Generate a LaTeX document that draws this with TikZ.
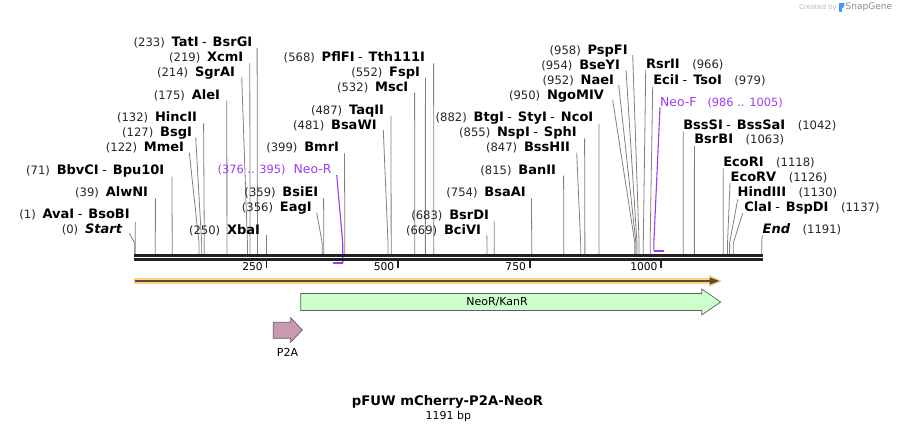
\documentclass[tikz,border=0pt]{standalone}
\usepackage{fontspec}
\setmainfont{DejaVu Sans}
\definecolor{numc}{HTML}{262626}
\definecolor{cutc}{HTML}{808080}
\definecolor{bbc}{HTML}{222222}
\definecolor{primc}{HTML}{9B3BF5}
\definecolor{orl}{HTML}{FFD27F}
\definecolor{ord}{HTML}{5C4A37}
\definecolor{neof}{HTML}{CCFFCC}
\definecolor{p2af}{HTML}{CC99B3}
\definecolor{featc}{HTML}{5F5F5F}
\newcommand\nm[1]{{\fontsize{11.6}{13}\selectfont\color{numc}#1}}
\newcommand\nb[1]{{\fontsize{13}{14}\selectfont\bfseries #1}}
\newcommand\gp{\hspace{6.8pt}}
\newcommand\dsh{\hspace{3.5pt}{\fontsize{12.7}{14}\selectfont -}\hspace{6pt}}
\newcommand\rgp{\hspace{12.5pt}}
\newcommand\bpx[1]{134.8+0.5264*#1}
\newcommand\cutL[7]{%
  \node[lbl, anchor=base east] (#1) at (#3,#4+4.6) {#2};
  \coordinate (#1s) at (#5,#6);
  \draw[cut] (#1s) -- ({\bpx{#7}},243) -- ({\bpx{#7}},254);
}
\newcommand\cutR[7]{%
  \node[lbl, anchor=base west] (#1) at (#3,#4+4.6) {#2};
  \coordinate (#1s) at (#5,#6);
  \draw[cut] (#1s) -- ({\bpx{#7}},243) -- ({\bpx{#7}},254);
}
\begin{document}
\begin{tikzpicture}[x=1pt,y=-1pt,
  lbl/.style={inner sep=0pt, outer sep=0pt},
  cut/.style={draw=cutc, line width=0.8pt},
  bb/.style={draw=bbc, line width=2.5pt},
  tickmark/.style={draw=bbc, line width=1.8pt},
  ticklbl/.style={inner sep=0pt, anchor=base east, font=\fontsize{10.7}{12}\selectfont},
  primline/.style={draw=primc, line width=1.1pt},
  primbar/.style={draw=primc, line width=2pt},
  prim/.style={inner sep=0pt, text=primc},
  feat/.style={draw=featc, line width=0.7pt, line join=miter},
  featlbl/.style={inner sep=0pt, font=\fontsize{11}{13}\selectfont}]
\useasboundingbox (0,0) rectangle (897,433);
\fill[white] (0,0) rectangle (897,433);

% restriction sites, left-side labels
\cutL{tat}{\nm{(233)}\gp\nb{TatI}\dsh\nb{BsrGI}}{252.3}{42.3}{257.1}{48}{233}
\cutL{xcm}{\nm{(219)}\gp\nb{XcmI}}{243.3}{56.7}{249.8}{63}{219}
\cutL{sgr}{\nm{(214)}\gp\nb{SgrAI}}{235}{72.3}{241.7}{77.3}{214}
\cutL{ale}{\nm{(175)}\gp\nb{AleI}}{220}{95}{226.8}{100.7}{175}
\cutL{hinc}{\nm{(132)}\gp\nb{HincII}}{197}{117.3}{203.6}{123.3}{132}
\cutL{bsg}{\nm{(127)}\gp\nb{BsgI}}{192}{132.3}{195.7}{137.3}{127}
\cutL{mme}{\nm{(122)}\gp\nb{MmeI}}{184}{146.7}{189.3}{152.7}{122}
\cutL{bbv}{\nm{(71)}\gp\nb{BbvCI}\dsh\nb{Bpu10I}}{164.3}{170}{172}{176.7}{71}
\cutL{alw}{\nm{(39)}\gp\nb{AlwNI}}{148}{192.3}{155.4}{198.3}{39}
\cutL{ava}{\nm{(1)}\gp\nb{AvaI}\dsh\nb{BsoBI}}{129.7}{214.3}{135.3}{221.7}{1}
\cutL{startl}{\nm{(0)}\gp\nb{\itshape Start}}{122}{229.3}{129.3}{233.3}{0}
\cutL{xba}{\nm{(250)}\gp\nb{XbaI}}{260}{230}{266.4}{235}{250}
\cutL{bsie}{\nm{(359)}\gp\nb{BsiEI}}{318.3}{192.3}{323.6}{198.3}{359}
\cutL{eag}{\nm{(356)}\gp\nb{EagI}}{311.7}{206.7}{316.7}{212.7}{356}
\cutL{bmr}{\nm{(399)}\gp\nb{BmrI}}{339}{146.7}{344.5}{153.3}{399}
\cutL{bsaw}{\nm{(481)}\gp\nb{BsaWI}}{376.7}{125}{383.3}{130}{481}
\cutL{taq}{\nm{(487)}\gp\nb{TaqII}}{384}{110}{391}{116}{487}
\cutL{msc}{\nm{(532)}\gp\nb{MscI}}{408.3}{86.7}{414.6}{92.7}{532}
\cutL{fsp}{\nm{(552)}\gp\nb{FspI}}{420}{72.3}{425.4}{77.7}{552}
\cutL{pfl}{\nm{(568)}\gp\nb{PflFI}\dsh\nb{Tth111I}}{425}{56.7}{433.6}{63.3}{568}
\cutL{btg}{\nm{(882)}\gp\nb{BtgI}\dsh\nb{StyI}\dsh\nb{NcoI}}{593.3}{117.3}{599}{124}{882}
\cutL{nsp}{\nm{(855)}\gp\nb{NspI}\dsh\nb{SphI}}{576.7}{131.7}{584.6}{138.3}{855}
\cutL{bsshii}{\nm{(847)}\gp\nb{BssHII}}{570}{146.7}{576.7}{152.7}{847}
\cutL{ban}{\nm{(815)}\gp\nb{BanII}}{556}{170}{563.6}{175.7}{815}
\cutL{bsaa}{\nm{(754)}\gp\nb{BsaAI}}{525.7}{192.3}{531.5}{198.3}{754}
\cutL{bsrd}{\nm{(683)}\gp\nb{BsrDI}}{489}{215}{494.3}{221.7}{683}
\cutL{bci}{\nm{(669)}\gp\nb{BciVI}}{481}{230}{486.8}{235}{669}
\cutL{psp}{\nm{(958)}\gp\nb{PspFI}}{627.7}{50}{632.7}{55}{958}
\cutL{bsey}{\nm{(954)}\gp\nb{BseYI}}{620}{65}{626}{70}{954}
\cutL{nae}{\nm{(952)}\gp\nb{NaeI}}{614}{80}{618.7}{85}{952}
\cutL{ngo}{\nm{(950)}\gp\nb{NgoMIV}}{604}{95}{612.7}{100}{950}
% right-side labels
\cutR{rsr}{\nb{RsrII}\rgp\nm{(966)}}{646}{64.3}{645.7}{70}{966}
\cutR{eci}{\nb{EciI}\dsh\nb{TsoI}\rgp\nm{(979)}}{653.3}{80}{652.7}{86.7}{979}
\cutR{bsss}{\nb{BssSI}\dsh\nb{BssSaI}\rgp\nm{(1042)}}{683.3}{125}{683.3}{131.7}{1042}
\cutR{bsrb}{\nb{BsrBI}\rgp\nm{(1063)}}{694.3}{139.3}{694.4}{146}{1063}
\cutR{ecori}{\nb{EcoRI}\rgp\nm{(1118)}}{723.3}{162.3}{723.3}{168.3}{1118}
\cutR{ecorv}{\nb{EcoRV}\rgp\nm{(1126)}}{730.7}{176.7}{730}{182.7}{1126}
\cutR{hind}{\nb{HindIII}\rgp\nm{(1130)}}{737.7}{191.7}{737.7}{199.3}{1130}
\cutR{cla}{\nb{ClaI}\dsh\nb{BspDI}\rgp\nm{(1137)}}{744.3}{206.7}{742.7}{213.3}{1137}
\cutR{endl}{\nb{\itshape End}\rgp\nm{(1191)}}{762.7}{229.3}{762.3}{235}{1191}

% primers
\node[prim, anchor=base east] (neoR) at (331.7,169.3+4.5)
  {{\fontsize{11.4}{13}\selectfont (376 .. 395)}\hspace{8pt}{\fontsize{12.4}{14}\selectfont Neo-R}};
\coordinate (neoRs) at (336.7,175);
\draw[primline] (neoRs) -- ({\bpx{395}},243) -- ({\bpx{395}},263.3);
\draw[primbar] ({\bpx{376}},263.3) -- ({\bpx{395}},263.3);
\node[prim, anchor=base west] (neoF) at (660,101.7+4.5)
  {{\fontsize{12.4}{14}\selectfont Neo-F}\hspace{11pt}{\fontsize{11.4}{13}\selectfont (986 .. 1005)}};
\coordinate (neoFs) at (660,107.3);
\draw[primline] (neoFs) -- ({\bpx{986}},243) -- ({\bpx{986}},250.7);
\draw[primbar] ({\bpx{986}},250.7) -- ({\bpx{1005}},250.7);

% backbone
\draw[bb] (134,255.5) -- (762.5,255.5);
\draw[bb] (134,259.5) -- (762.5,259.5);
\foreach \t/\n in {250/t250,500/t500,750/t750,1000/t1000}{
  \draw[tickmark] ({\bpx{\t}},260.5) -- ({\bpx{\t}},268);
  \node[ticklbl] (\n) at ({\bpx{\t}-3.5},266.7+3.9) {\t};
}

% ORF line
\draw[orl, line width=5.4pt] (134,281) -- (712,281);
\fill[orl] (709,275) -- (722,281) -- (709,287) -- cycle;
\draw[ord, line width=1.8pt] (135,281) -- (712,281);
\fill[ord] (709.5,277.3) -- (719.5,281) -- (709.5,284.7) -- cycle;

% features
\draw[feat, fill=neof] (300.7,293.5) -- (701.7,293.5) -- (701.7,289) -- (720.7,302)
  -- (701.7,315) -- (701.7,310.5) -- (300.7,310.5) -- cycle;
\node[featlbl] (neoRlbl) at (497,302) {NeoR/KanR};
\draw[feat, fill=p2af] (273.3,322.3) -- (290.7,322.3) -- (290.7,317.7) -- (302.3,330)
  -- (290.7,342.3) -- (290.7,338.3) -- (273.3,338.3) -- cycle;
\node[featlbl] (p2albl) at (287.5,352) {P2A};

% title
\node[inner sep=0pt, font=\fontsize{13.2}{15}\selectfont\bfseries] (title) at (447.5,402.3) {pFUW mCherry-P2A-NeoR};
\node[inner sep=0pt, font=\fontsize{11}{13}\selectfont] (len) at (448.3,416.7) {1191 bp};

% credit
\node[inner sep=0pt, anchor=west, text=black!27, font=\fontsize{6.8}{8}\selectfont] (cr1) at (799,7.5) {Created by};
\fill[blue!60!cyan!70] (839,3) rectangle (841.5,12.5);
\fill[blue!60!cyan!70] (841.5,3) -- (844,3) .. controls (845,3) and (845,8) .. (841.5,8.5) -- cycle;
\node[inner sep=0pt, anchor=west, text=black!45, font=\fontsize{9}{10}\selectfont] (cr2) at (845.5,7.5) {SnapGene};
\end{tikzpicture}
\end{document}
